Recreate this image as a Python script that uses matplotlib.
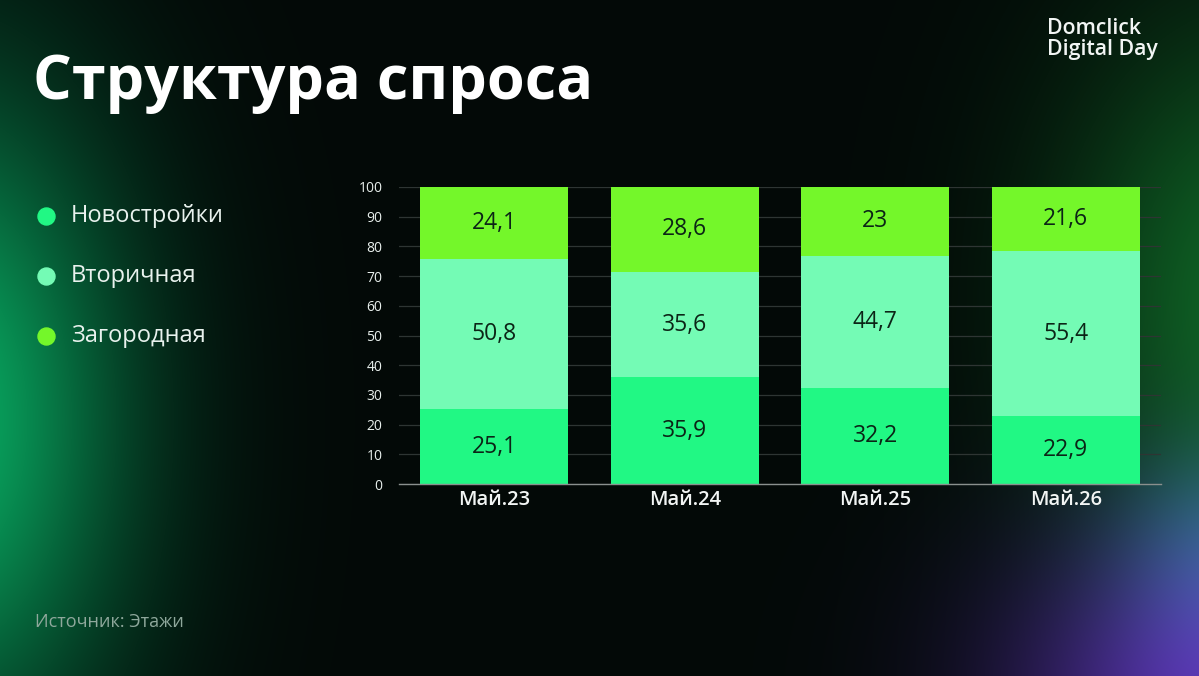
import numpy as np
import matplotlib
matplotlib.use("Agg")
import matplotlib.pyplot as plt

categories = ["Май.23", "Май.24", "Май.25", "Май.26"]
series_names = ["Новостройки", "Вторичная", "Загородная"]
novostroyki = [25.1, 35.9, 32.2, 22.9]
vtorichnaya = [50.8, 35.6, 44.7, 55.4]
zagorodnaya = [24.1, 28.6, 23.0, 21.6]
label_novostroyki = ["25,1", "35,9", "32,2", "22,9"]
label_vtorichnaya = ["50,8", "35,6", "44,7", "55,4"]
label_zagorodnaya = ["24,1", "28,6", "23", "21,6"]
yticks = [0, 10, 20, 30, 40, 50, 60, 70, 80, 90, 100]

colors = ["#21F884", "#74FBB5", "#74F72A"]
FONT = ["Open Sans", "DejaVu Sans"]
plt.rcParams['font.family'] = FONT

W, H = 1199, 676
fig = plt.figure(figsize=(W / 100, H / 100), dpi=100)

# background
bg = fig.add_axes([0, 0, 1, 1])
yy, xx = np.mgrid[0:H, 0:W].astype(float)
img = np.zeros((H, W, 3))
img[:] = np.array([3, 9, 7]) / 255.0
def glow(cx, cy, sx, sy, col):
    g = np.exp(-(((xx - cx) / sx) ** 2 + ((yy - cy) / sy) ** 2) / 2.0)
    return g[..., None] * (np.array(col) / 255.0)
img += glow(-60, 420, 130, 230, (5, 160, 90))
img += glow(1260, 300, 140, 200, (12, 90, 30))
img += glow(1230, 700, 150, 120, (85, 30, 165))
img += glow(1230, 540, 80, 70, (15, 35, 60))
img = np.clip(img, 0, 1)
bg.imshow(img, extent=[0, W, H, 0], aspect='auto', interpolation='bilinear')
bg.set_xlim(0, W)
bg.set_ylim(H, 0)
bg.axis('off')

# chart axes
left, right = 399, 1161
top, bottom = 187, 484
ax = fig.add_axes([left / W, 1 - bottom / H, (right - left) / W, (bottom - top) / H])
ax.patch.set_alpha(0)
x = np.arange(len(categories))
bw = 0.777
b1 = ax.bar(x, novostroyki, bw, color=colors[0], zorder=3)
bott2 = np.array(novostroyki)
b2 = ax.bar(x, vtorichnaya, bw, bottom=bott2, color=colors[1], zorder=3)
bott3 = bott2 + np.array(vtorichnaya)
b3 = ax.bar(x, zagorodnaya, bw, bottom=bott3, color=colors[2], zorder=3)

for bars, labels in [(b1, label_novostroyki), (b2, label_vtorichnaya), (b3, label_zagorodnaya)]:
    ax.bar_label(bars, labels=labels, label_type='center', color="#0b2416",
                 fontsize=16.5, zorder=4)

ax.set_xlim(-0.5, 3.5)
ax.set_ylim(0, 100)
ax.set_yticks(yticks)
ax.set_yticklabels([str(v) for v in yticks], fontsize=10, color="#e8efec")
ax.set_xticks(x)
ax.set_xticklabels(categories, fontsize=14.5, color="#f2f5f4", fontweight='semibold')
ax.tick_params(axis='both', length=0)
ax.tick_params(axis='y', pad=12)
ax.tick_params(axis='x', pad=4)
ax.grid(axis='y', color="#2e3533", linewidth=0.9, zorder=0)
for s in ["top", "right", "left"]:
    ax.spines[s].set_visible(False)
ax.spines["bottom"].set_color("#8a908e")
ax.spines["bottom"].set_linewidth(1.0)
ax.spines["bottom"].set_zorder(5)

# overlay texts (pixel coords)
ov = fig.add_axes([0, 0, 1, 1])
ov.set_xlim(0, W)
ov.set_ylim(H, 0)
ov.axis('off')
ov.patch.set_alpha(0)

ov.text(33, 83, "Структура спроса", fontsize=44, fontweight='bold', color="white",
        va='center', ha='left')
ov.text(1047, 39, "Domclick\nDigital Day", fontsize=15.3, fontweight='semibold', color="#f2f5f4",
        va='center', ha='left', linespacing=1.0)
ov.text(35, 622, "Источник: Этажи", fontsize=13, color="#8fa89c", va='center', ha='left')

for i, (name, c) in enumerate(zip(series_names, colors)):
    yv = 216 + 60 * i
    ov.scatter([46], [yv], s=150, color=c, zorder=5)
    ov.text(71, yv, name, fontsize=17, color="#e9f2ee", va='center', ha='left')

fig.savefig("out.png", dpi=100)
